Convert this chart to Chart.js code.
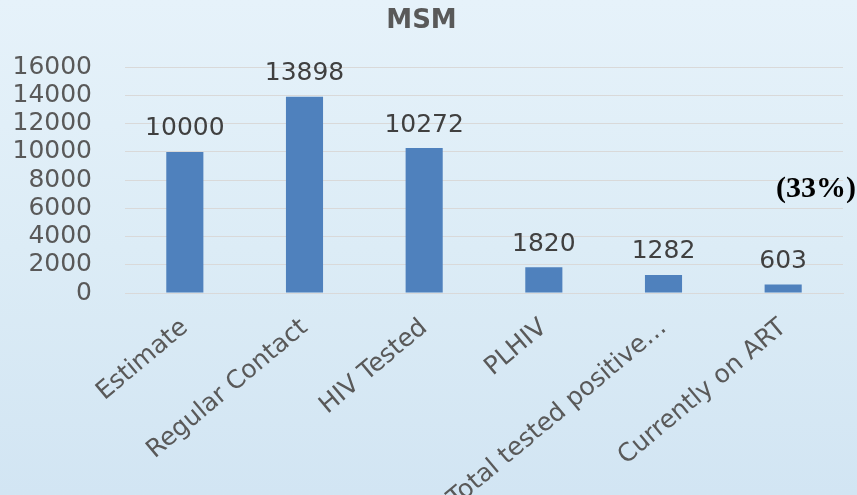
<!DOCTYPE html>
<html>
<head>
<meta charset="utf-8">
<script src="https://cdn.jsdelivr.net/npm/chart.js@4/dist/chart.umd.min.js"></script>
<style>
  html, body { margin: 0; padding: 0; }
  body { width: 857px; height: 495px; background: linear-gradient(180deg, #e6f2fa 0%, #dcecf6 50%, #d2e5f3 100%); }
  #wrap { width: 857px; height: 495px; position: relative; }
</style>
</head>
<body>
<div id="wrap"><canvas id="chart_msm"></canvas></div>
<script>
const categories = ['Estimate', 'Regular Contact', 'HIV Tested', 'PLHIV', 'Total tested positive…', 'Currently on ART'];
const values = [10000, 13898, 10272, 1820, 1282, 603];
const yTicks = [0, 2000, 4000, 6000, 8000, 10000, 12000, 14000, 16000];
const note = '(33%)';

const textColor = '#595959';
const font = 'DejaVu Sans';

// value labels above each bar + the percentage note
const barLabels = {
    id: 'barLabels',
    afterDatasetsDraw(chart) {
        const ctx = chart.ctx;
        const meta = chart.getDatasetMeta(0);
        ctx.save();
        ctx.fillStyle = '#404040';
        ctx.font = `25px "${font}"`;
        ctx.textAlign = 'center';
        ctx.textBaseline = 'middle';
        meta.data.forEach((bar, i) => {
            ctx.fillText(String(values[i]), bar.x, bar.y - 23);
        });
        ctx.fillStyle = '#000';
        ctx.font = 'bold 30px "Liberation Serif"';
        ctx.textAlign = 'right';
        ctx.fillText(note, chart.chartArea.right + 13, chart.scales.y.getPixelForValue(7350));
        ctx.restore();
    }
}

const renderChart = () => {
    const data = {
        labels: categories,
        datasets: [{
            data: values,
            backgroundColor: '#4f81bd',
            borderWidth: 0,
            categoryPercentage: 1,
            barPercentage: 0.31
        }]
    }

    const options = {
        responsive: true,
        maintainAspectRatio: false,
        animation: false,
        layout: { padding: { left: 0, right: 14, top: 0, bottom: 0 } },
        plugins: {
            legend: { display: false },
            tooltip: { enabled: false },
            title: {
                display: true,
                text: 'MSM',
                color: textColor,
                font: { family: font, size: 26, weight: 'bold' },
                padding: { top: 6, bottom: 30 }
            }
        },
        scales: {
            x: {
                grid: { display: false },
                border: { color: '#d9d9d9' },
                ticks: {
                    color: textColor,
                    font: { family: font, size: 25 },
                    minRotation: 40,
                    maxRotation: 40,
                    autoSkip: false,
                    padding: 12
                },
                afterFit: s => { s.height = 202; }
            },
            y: {
                min: 0,
                max: 16000,
                afterBuildTicks: s => { s.ticks = yTicks.map(v => ({ value: v })); },
                grid: { color: '#d9d9d9', drawTicks: false },
                border: { display: false },
                ticks: {
                    color: textColor,
                    font: { family: font, size: 25, lineHeight: 1 },
                    autoSkip: false,
                    padding: 33,
                    callback: v => String(v)
                },
                afterFit: s => { s.width = 125; }
            }
        }
    }
    new Chart('chart_msm', { type: 'bar', data, options, plugins: [barLabels] })
}
renderChart();
</script>
</body>
</html>
